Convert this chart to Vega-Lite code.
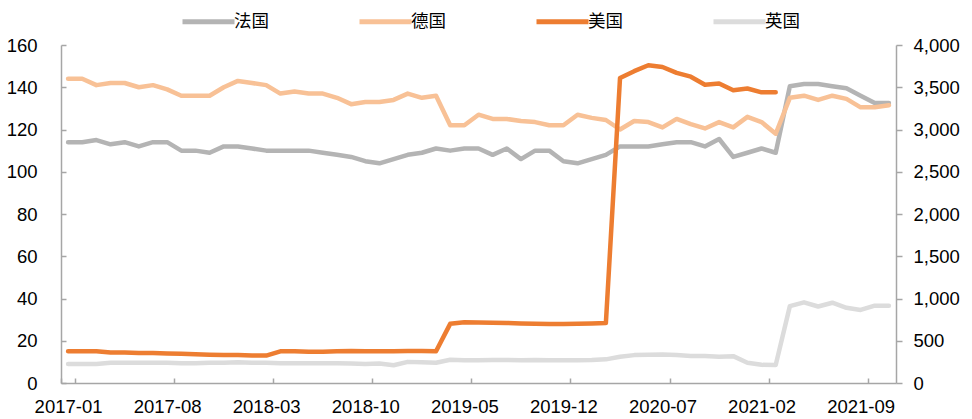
{
  "$schema": "https://vega.github.io/schema/vega-lite/v6.json",
  "width": 835,
  "height": 338,
  "autosize": {"type": "none"},
  "padding": {"left": 61, "top": 45, "right": 76, "bottom": 36},
  "background": "white",
  "config": {
    "view": {"stroke": null},
    "font": "Liberation Sans",
    "axis": {
      "grid": false,
      "domainColor": "#A6A6A6",
      "domainWidth": 1.5,
      "tickColor": "#A6A6A6",
      "tickWidth": 1.5,
      "labelFont": "Liberation Sans",
      "labelFontSize": 18.5,
      "labelColor": "#000000",
      "title": null
    },
    "legend": {
      "orient": "none",
      "legendX": 119,
      "legendY": -52,
      "direction": "horizontal",
      "symbolType": "stroke",
      "symbolSize": 2704,
      "symbolStrokeWidth": 5,
      "labelFont": "Noto Sans CJK SC",
      "labelFontSize": 17.5,
      "labelColor": "#000000",
      "labelOffset": -3,
      "columnPadding": 80,
      "padding": 0,
      "title": null
    }
  },
  "data": {
    "values": [
      {"month": "2017-01", "法国": 114, "德国": 144, "美国": 375, "英国": 225},
      {"month": "2017-02", "法国": 114, "德国": 144, "美国": 375, "英国": 225},
      {"month": "2017-03", "法国": 115, "德国": 141, "美国": 375, "英国": 225},
      {"month": "2017-04", "法国": 113, "德国": 142, "美国": 360, "英国": 240},
      {"month": "2017-05", "法国": 114, "德国": 142, "美国": 360, "英国": 240},
      {"month": "2017-06", "法国": 112, "德国": 140, "美国": 355, "英国": 240},
      {"month": "2017-07", "法国": 114, "德国": 141, "美国": 355, "英国": 240},
      {"month": "2017-08", "法国": 114, "德国": 139, "美国": 350, "英国": 240},
      {"month": "2017-09", "法国": 110, "德国": 136, "美国": 345, "英国": 235},
      {"month": "2017-10", "法国": 110, "德国": 136, "美国": 340, "英国": 235},
      {"month": "2017-11", "法国": 109, "德国": 136, "美国": 335, "英国": 240},
      {"month": "2017-12", "法国": 112, "德国": 140, "美国": 330, "英国": 240},
      {"month": "2018-01", "法国": 112, "德国": 143, "美国": 330, "英国": 245},
      {"month": "2018-02", "法国": 111, "德国": 142, "美国": 325, "英国": 240},
      {"month": "2018-03", "法国": 110, "德国": 141, "美国": 325, "英国": 240},
      {"month": "2018-04", "法国": 110, "德国": 137, "美国": 375, "英国": 235},
      {"month": "2018-05", "法国": 110, "德国": 138, "美国": 375, "英国": 235},
      {"month": "2018-06", "法国": 110, "德国": 137, "美国": 370, "英国": 235},
      {"month": "2018-07", "法国": 109, "德国": 137, "美国": 370, "英国": 235},
      {"month": "2018-08", "法国": 108, "德国": 135, "美国": 375, "英国": 235},
      {"month": "2018-09", "法国": 107, "德国": 132, "美国": 380, "英国": 230},
      {"month": "2018-10", "法国": 105, "德国": 133, "美国": 375, "英国": 225},
      {"month": "2018-11", "法国": 104, "德国": 133, "美国": 375, "英国": 230},
      {"month": "2018-12", "法国": 106, "德国": 134, "美国": 375, "英国": 210},
      {"month": "2019-01", "法国": 108, "德国": 137, "美国": 380, "英国": 250},
      {"month": "2019-02", "法国": 109, "德国": 135, "美国": 380, "英国": 245},
      {"month": "2019-03", "法国": 111, "德国": 136, "美国": 375, "英国": 240},
      {"month": "2019-04", "法国": 110, "德国": 122, "美国": 700, "英国": 275},
      {"month": "2019-05", "法国": 111, "德国": 122, "美国": 718, "英国": 270},
      {"month": "2019-06", "法国": 111, "德国": 127, "美国": 715, "英国": 270},
      {"month": "2019-07", "法国": 108, "德国": 125, "美国": 712, "英国": 272},
      {"month": "2019-08", "法国": 111, "德国": 125, "美国": 710, "英国": 272},
      {"month": "2019-09", "法国": 106, "德国": 124, "美国": 705, "英国": 270},
      {"month": "2019-10", "法国": 110, "德国": 123.5, "美国": 700, "英国": 272},
      {"month": "2019-11", "法国": 110, "德国": 122, "美国": 698, "英国": 270},
      {"month": "2019-12", "法国": 105, "德国": 122, "美国": 698, "英国": 268},
      {"month": "2020-01", "法国": 104, "德国": 127, "美国": 700, "英国": 270},
      {"month": "2020-02", "法国": 106, "德国": 125.5, "美国": 705, "英国": 272},
      {"month": "2020-03", "法国": 108, "德国": 124.5, "美国": 710, "英国": 280},
      {"month": "2020-04", "法国": 112, "德国": 120, "美国": 3610, "英国": 310},
      {"month": "2020-05", "法国": 112, "德国": 124, "美国": 3690, "英国": 330},
      {"month": "2020-06", "法国": 112, "德国": 123.5, "美国": 3760, "英国": 335},
      {"month": "2020-07", "法国": 113, "德国": 121, "美国": 3740, "英国": 338},
      {"month": "2020-08", "法国": 114, "德国": 125, "美国": 3670, "英国": 330},
      {"month": "2020-09", "法国": 114, "德国": 122.5, "美国": 3625, "英国": 320},
      {"month": "2020-10", "法国": 112, "德国": 120.5, "美国": 3530, "英国": 320},
      {"month": "2020-11", "法国": 115.5, "德国": 123.5, "美国": 3545, "英国": 310},
      {"month": "2020-12", "法国": 107, "德国": 121, "美国": 3465, "英国": 318},
      {"month": "2021-01", "法国": 109, "德国": 126, "美国": 3485, "英国": 240},
      {"month": "2021-02", "法国": 111, "德国": 123.5, "美国": 3440, "英国": 215},
      {"month": "2021-03", "法国": 109, "德国": 118, "美国": 3440, "英国": 212},
      {"month": "2021-04", "法国": 140.5, "德国": 135, "英国": 910},
      {"month": "2021-05", "法国": 141.5, "德国": 136, "英国": 955},
      {"month": "2021-06", "法国": 141.5, "德国": 134, "英国": 905},
      {"month": "2021-07", "法国": 140.5, "德国": 136, "英国": 950},
      {"month": "2021-08", "法国": 139.5, "德国": 134.5, "英国": 890},
      {"month": "2021-09", "法国": 136, "德国": 130.5, "英国": 865},
      {"month": "2021-10", "法国": 132.5, "德国": 130.5, "英国": 915},
      {"month": "2021-11", "法国": 132.5, "德国": 131.5, "英国": 915}
    ]
  },
  "encoding": {
    "x": {
      "field": "month",
      "type": "ordinal",
      "sort": null,
      "bandPosition": 0.5,
      "scale": {"type": "band", "paddingInner": 0, "paddingOuter": 0},
      "axis": {
        "values": ["2017-01", "2017-08", "2018-03", "2018-10", "2019-05", "2019-12", "2020-07", "2021-02", "2021-09"],
        "tickBand": "extent",
        "tickSize": -5,
        "labelPadding": 19.5,
        "labelAngle": 0,
        "labelOverlap": false
      }
    }
  },
  "layer": [
    {
      "transform": [{"fold": ["法国", "德国"], "as": ["country", "value"]}],
      "mark": {"type": "line", "strokeWidth": 4.5, "strokeJoin": "round", "strokeCap": "round"},
      "encoding": {
        "y": {
          "field": "value",
          "type": "quantitative",
          "scale": {"domain": [0, 160], "nice": false},
          "axis": {
            "orient": "left",
            "values": [0, 20, 40, 60, 80, 100, 120, 140, 160],
            "tickSize": -5,
            "labelPadding": 29
          }
        },
        "color": {
          "field": "country",
          "type": "nominal",
          "scale": {
            "domain": ["法国", "德国", "美国", "英国"],
            "range": ["#B4B4B4", "#F8C196", "#ED7D31", "#DCDCDC"]
          }
        }
      }
    },
    {
      "transform": [{"fold": ["美国", "英国"], "as": ["country", "value"]}],
      "mark": {"type": "line", "strokeWidth": 4.5, "strokeJoin": "round", "strokeCap": "round"},
      "encoding": {
        "y": {
          "field": "value",
          "type": "quantitative",
          "scale": {"domain": [0, 4000], "nice": false},
          "axis": {
            "orient": "right",
            "values": [0, 500, 1000, 1500, 2000, 2500, 3000, 3500, 4000],
            "format": ",d",
            "tickSize": 6,
            "labelPadding": 11
          }
        },
        "color": {
          "field": "country",
          "type": "nominal",
          "scale": {
            "domain": ["法国", "德国", "美国", "英国"],
            "range": ["#B4B4B4", "#F8C196", "#ED7D31", "#DCDCDC"]
          }
        }
      }
    }
  ],
  "resolve": {"scale": {"y": "independent"}}
}
